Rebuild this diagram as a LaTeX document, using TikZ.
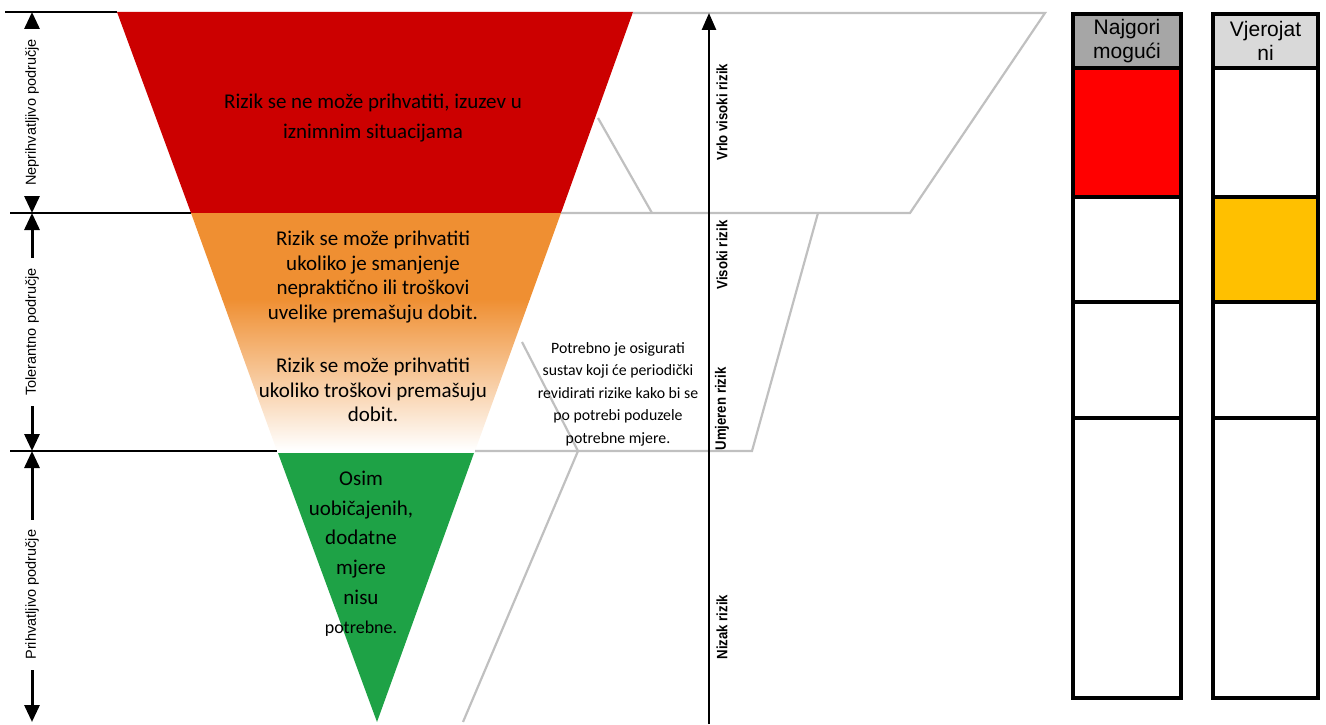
\documentclass[tikz,border=0pt]{standalone}
\usepackage{fontspec}
\setmainfont{Carlito}
\newfontfamily\arialfont{Liberation Sans}
\newfontfamily\narrowfont[FakeStretch=0.88]{Liberation Sans}
\usetikzlibrary{arrows.meta, positioning}
\definecolor{riskred}{RGB}{204,0,0}
\definecolor{riskorange}{RGB}{239,143,50}
\definecolor{riskgreen}{RGB}{30,162,70}
\definecolor{guidegray}{RGB}{192,192,192}
\definecolor{cellred}{RGB}{255,0,0}
\definecolor{cellamber}{RGB}{255,192,0}
\definecolor{headdark}{RGB}{166,166,166}
\definecolor{headlight}{RGB}{217,217,217}

\begin{document}
\begin{tikzpicture}[
  x=1pt, y=-1pt,
  guideline/.style={draw=guidegray, line width=2.2pt},
  levelline/.style={draw=black, line width=1.6pt},
  spanarrow/.style={
    {Triangle[length=17pt,width=15pt]}-{Triangle[length=17pt,width=15pt]},
    line width=3pt
  },
  axisarrow/.style={-{Triangle[length=17pt,width=14pt]}, line width=2.6pt},
  spanlabel/.style={
    fill=white,
    rotate=90,
    inner xsep=10pt,
    inner ysep=1pt,
    font=\arialfont\fontsize{14.5}{16}\selectfont
  },
  risklabel/.style={
    rotate=90,
    inner sep=1pt,
    font=\narrowfont\bfseries\fontsize{15}{17}\selectfont
  },
  zonetext/.style={align=center, font=\fontsize{21}{30}\selectfont},
  colcell/.style={
    rectangle,
    draw=black,
    line width=3.5pt,
    inner sep=0pt,
    outer sep=0pt,
    fill=white
  },
  colhead/.style={
    colcell,
    align=center,
    font=\arialfont\fontsize{21}{24}\selectfont
  },
  node distance=0pt and 32pt
]
\useasboundingbox (0,0) rectangle (1326,725);

\fill[riskred] (117,12) -- (633,12) -- (561,213) -- (191,213) -- cycle;
\begin{scope}
  \clip (191,213) -- (561,213) -- (475,451) -- (277,451) -- cycle;
  \fill[riskorange] (150,212) rectangle (600,300);
  \shade[top color=riskorange, bottom color=white] (150,299) rectangle (600,450);
\end{scope}
\fill[riskgreen] (278,453) -- (474,453) -- (377,722) -- cycle;

\draw[guideline] (633,13) -- (1045,13) -- (910,213) -- (561,213);
\draw[guideline] (598,118) -- (652,213);
\draw[guideline] (475,451) -- (752,451) -- (818,213);
\draw[guideline] (522,342) -- (578,451) -- (463,722);

\coordinate (lev0) at (32,12);
\coordinate (lev1) at (32,213);
\coordinate (lev2) at (32,451);
\coordinate (lev3) at (32,722);
\draw[levelline] (5,12) -- (117,12);
\draw[levelline] (10,213) -- (191,213);
\draw[levelline] (10,451) -- (277,451);
\draw[spanarrow] (lev1) -- node[spanlabel] {Neprihvatljivo područje} (lev0);
\draw[spanarrow] (lev2) -- node[spanlabel] {Tolerantno područje} (lev1);
\draw[spanarrow] (lev3) -- node[spanlabel, pos=0.47] {Prihvatljivo područje} (lev2);

\coordinate (axbot) at (709,724);
\coordinate (axtop) at (709,13);
\draw[axisarrow] (axbot) -- (axtop);
\node[risklabel] (veryhigh) at (722,112) {Vrlo visoki rizik};
\node[risklabel] (high) at (722,255) {Visoki rizik};
\node[risklabel] (moderate) at (722,409) {Umjeren rizik};
\node[risklabel] (low) at (722,627) {Nizak rizik};

\node[zonetext] (redtext) at (373,118) {Rizik se ne može prihvatiti, izuzev u\\iznimnim situacijama};
\node[zonetext, font=\fontsize{21}{24.7}\selectfont] (orangetop) at (373,277)
  {Rizik se može prihvatiti\\ukoliko je smanjenje\\nepraktično ili troškovi\\uvelike premašuju dobit.};
\node[zonetext, font=\fontsize{21}{24.5}\selectfont] (orangebottom) at (373,390)
  {Rizik se može prihvatiti\\ukoliko troškovi premašuju\\dobit.};
\node[zonetext, font=\fontsize{21}{29.6}\selectfont] (greentext) at (361,554)
  {Osim\\uobičajenih,\\dodatne\\mjere\\nisu\\{\fontsize{18}{29.6}\selectfont potrebne.}};
\node[align=center, font=\fontsize{15.8}{22.5}\selectfont] (note) at (618,394)
  {Potrebno je osigurati\\sustav koji će periodički\\revidirati rizike kako bi se\\po potrebi poduzele\\potrebne mjere.};

\node[colhead, fill=headdark, minimum width=108pt, minimum height=54pt] (worsthead) at (1127,41) {Najgori\\mogući};
\node[colcell, fill=cellred, minimum width=108pt, minimum height=129pt, below=of worsthead] (worst1) {};
\node[colcell, minimum width=108pt, minimum height=105pt, below=of worst1] (worst2) {};
\node[colcell, minimum width=108pt, minimum height=116pt, below=of worst2] (worst3) {};
\node[colcell, minimum width=108pt, minimum height=280pt, below=of worst3] (worst4) {};

\node[colhead, fill=headlight, minimum width=105pt, minimum height=54pt, right=of worsthead] (likelyhead) {Vjerojat\\ni};
\node[colcell, minimum width=105pt, minimum height=129pt, below=of likelyhead] (likely1) {};
\node[colcell, fill=cellamber, minimum width=105pt, minimum height=105pt, below=of likely1] (likely2) {};
\node[colcell, minimum width=105pt, minimum height=116pt, below=of likely2] (likely3) {};
\node[colcell, minimum width=105pt, minimum height=280pt, below=of likely3] (likely4) {};

\end{tikzpicture}
\end{document}
